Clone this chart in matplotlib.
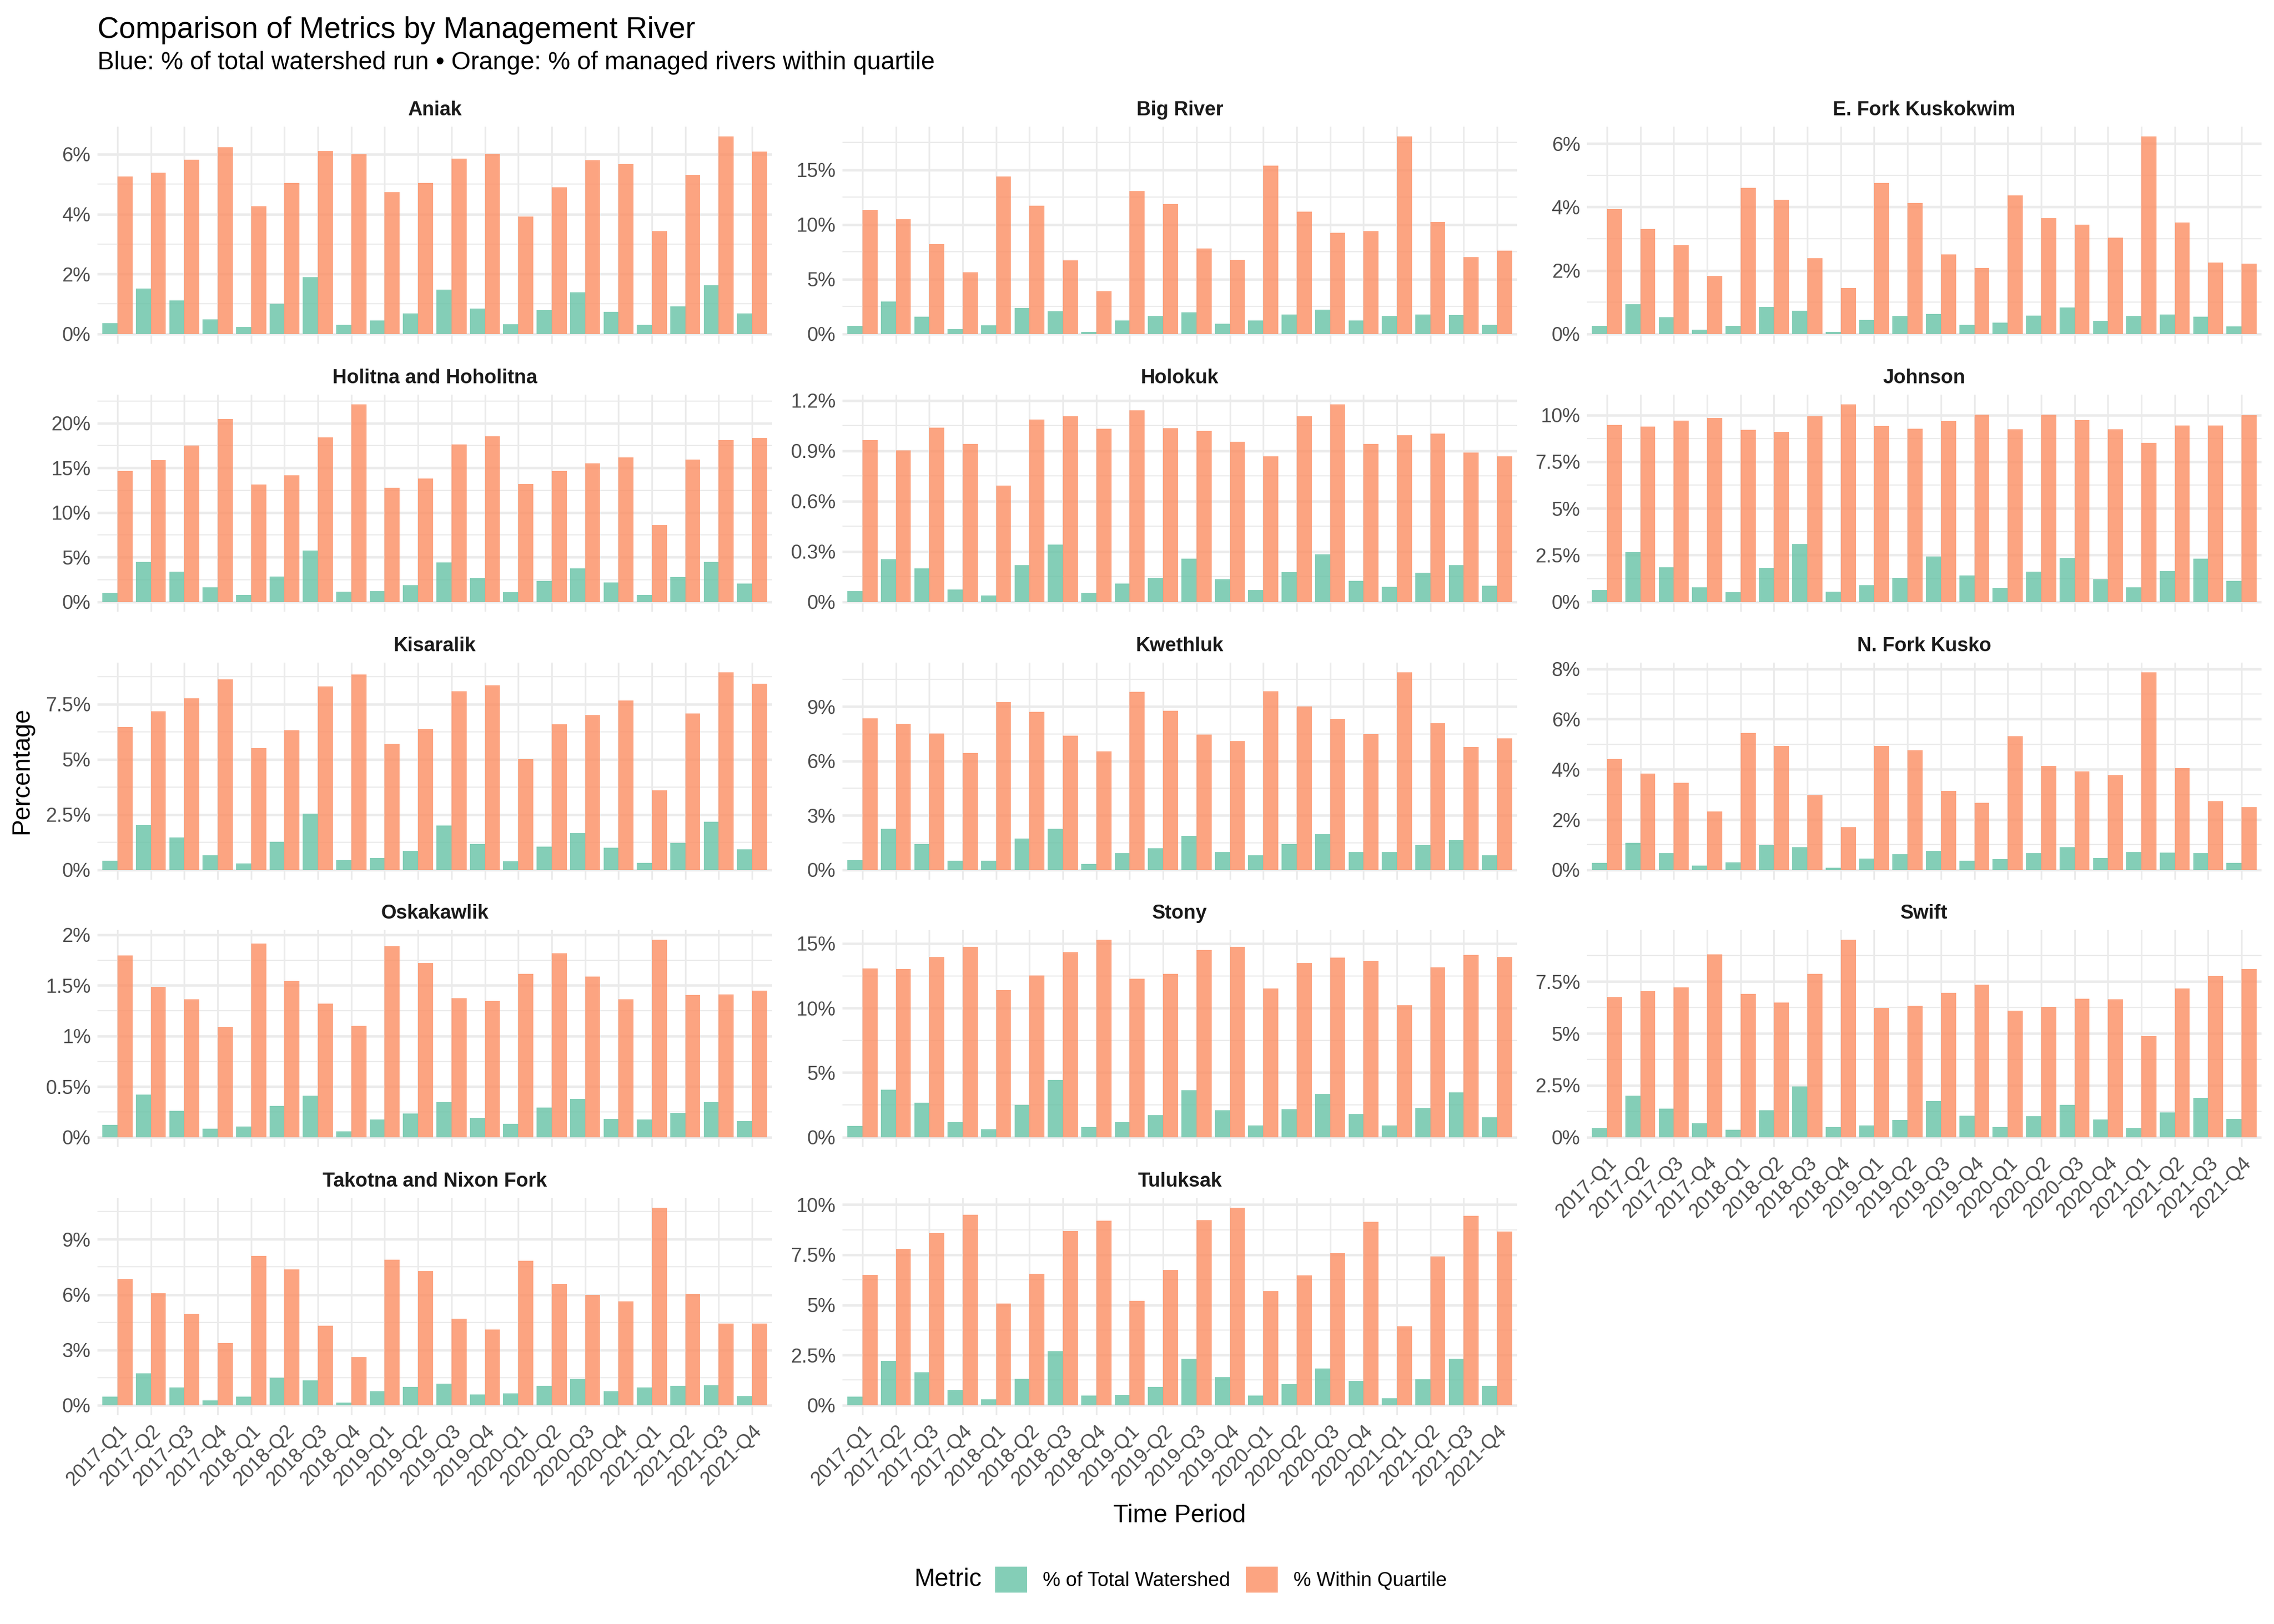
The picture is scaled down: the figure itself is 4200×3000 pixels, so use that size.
import matplotlib
matplotlib.use("Agg")
import matplotlib.pyplot as plt
from matplotlib.patches import Patch
from matplotlib.ticker import MultipleLocator, AutoMinorLocator, FuncFormatter
import numpy as np

plt.rcParams['font.family'] = ['Liberation Sans', 'DejaVu Sans']

periods = ["2017-Q1", "2017-Q2", "2017-Q3", "2017-Q4", "2018-Q1", "2018-Q2", "2018-Q3", "2018-Q4",
           "2019-Q1", "2019-Q2", "2019-Q3", "2019-Q4", "2020-Q1", "2020-Q2", "2020-Q3", "2020-Q4",
           "2021-Q1", "2021-Q2", "2021-Q3", "2021-Q4"]

# % of total watershed run / % within quartile, per river
aniak_total = [0.36, 1.51, 1.11, 0.48, 0.23, 1.01, 1.89, 0.30, 0.45, 0.68, 1.48, 0.84, 0.32, 0.79, 1.39, 0.73, 0.30, 0.92, 1.62, 0.68]
aniak_within = [5.25, 5.38, 5.81, 6.23, 4.26, 5.04, 6.10, 5.99, 4.73, 5.04, 5.85, 6.01, 3.92, 4.89, 5.80, 5.67, 3.43, 5.31, 6.59, 6.08]
big_total = [0.73, 2.95, 1.57, 0.43, 0.78, 2.36, 2.06, 0.18, 1.22, 1.62, 1.96, 0.92, 1.22, 1.77, 2.21, 1.22, 1.62, 1.77, 1.72, 0.83]
big_within = [11.32, 10.48, 8.20, 5.63, 14.39, 11.72, 6.72, 3.89, 13.05, 11.86, 7.81, 6.77, 15.38, 11.17, 9.24, 9.39, 18.05, 10.23, 7.01, 7.61]
efork_total = [0.25, 0.93, 0.52, 0.13, 0.25, 0.85, 0.73, 0.06, 0.44, 0.56, 0.63, 0.28, 0.35, 0.57, 0.83, 0.40, 0.56, 0.61, 0.54, 0.23]
efork_within = [3.93, 3.30, 2.79, 1.82, 4.60, 4.22, 2.38, 1.44, 4.75, 4.12, 2.50, 2.07, 4.36, 3.64, 3.45, 3.03, 6.22, 3.51, 2.24, 2.21]
holitna_total = [1.01, 4.46, 3.37, 1.62, 0.77, 2.83, 5.74, 1.13, 1.19, 1.86, 4.40, 2.65, 1.07, 2.34, 3.74, 2.16, 0.77, 2.77, 4.46, 2.04]
holitna_within = [14.65, 15.86, 17.49, 20.46, 13.13, 14.16, 18.40, 22.10, 12.77, 13.80, 17.62, 18.53, 13.19, 14.65, 15.49, 16.16, 8.59, 15.92, 18.10, 18.34]
holokuk_total = [0.063, 0.254, 0.199, 0.073, 0.038, 0.218, 0.341, 0.054, 0.109, 0.141, 0.257, 0.134, 0.070, 0.176, 0.283, 0.125, 0.089, 0.173, 0.218, 0.096]
holokuk_within = [0.963, 0.902, 1.038, 0.941, 0.692, 1.086, 1.105, 1.031, 1.141, 1.034, 1.018, 0.954, 0.867, 1.105, 1.176, 0.941, 0.992, 1.002, 0.889, 0.867]
johnson_total = [0.63, 2.65, 1.84, 0.77, 0.51, 1.81, 3.09, 0.54, 0.89, 1.26, 2.42, 1.41, 0.74, 1.61, 2.34, 1.21, 0.77, 1.64, 2.31, 1.12]
johnson_within = [9.46, 9.37, 9.69, 9.84, 9.20, 9.08, 9.92, 10.56, 9.40, 9.26, 9.66, 10.01, 9.23, 10.01, 9.72, 9.23, 8.50, 9.43, 9.43, 9.98]
kisaralik_total = [0.42, 2.04, 1.47, 0.66, 0.29, 1.28, 2.55, 0.44, 0.54, 0.86, 2.01, 1.18, 0.39, 1.06, 1.67, 1.01, 0.32, 1.23, 2.18, 0.93]
kisaralik_within = [6.48, 7.19, 7.76, 8.62, 5.52, 6.33, 8.30, 8.84, 5.70, 6.38, 8.08, 8.35, 5.01, 6.60, 7.00, 7.68, 3.61, 7.07, 8.94, 8.42]
kwethluk_total = [0.54, 2.27, 1.44, 0.51, 0.51, 1.73, 2.27, 0.33, 0.93, 1.20, 1.88, 0.99, 0.81, 1.44, 1.97, 0.99, 0.99, 1.38, 1.65, 0.81]
kwethluk_within = [8.37, 8.05, 7.51, 6.46, 9.24, 8.73, 7.39, 6.55, 9.81, 8.79, 7.45, 7.09, 9.84, 9.00, 8.32, 7.48, 10.89, 8.08, 6.76, 7.24]
nfork_total = [0.27, 1.07, 0.66, 0.17, 0.29, 0.98, 0.90, 0.08, 0.44, 0.63, 0.76, 0.36, 0.42, 0.66, 0.91, 0.48, 0.70, 0.69, 0.66, 0.27]
nfork_within = [4.42, 3.83, 3.47, 2.32, 5.46, 4.93, 2.96, 1.70, 4.94, 4.77, 3.15, 2.67, 5.31, 4.14, 3.91, 3.77, 7.86, 4.05, 2.73, 2.50]
oska_total = [0.121, 0.421, 0.260, 0.084, 0.105, 0.308, 0.410, 0.057, 0.175, 0.234, 0.346, 0.191, 0.132, 0.292, 0.378, 0.180, 0.175, 0.239, 0.346, 0.159]
oska_within = [1.795, 1.485, 1.362, 1.089, 1.913, 1.544, 1.319, 1.100, 1.886, 1.720, 1.373, 1.346, 1.613, 1.816, 1.586, 1.362, 1.950, 1.405, 1.410, 1.447]
stony_total = [0.87, 3.67, 2.67, 1.16, 0.61, 2.50, 4.43, 0.78, 1.16, 1.70, 3.63, 2.08, 0.91, 2.16, 3.34, 1.79, 0.91, 2.25, 3.46, 1.54]
stony_within = [13.06, 13.02, 13.94, 14.73, 11.38, 12.51, 14.32, 15.28, 12.26, 12.64, 14.48, 14.73, 11.51, 13.48, 13.90, 13.65, 10.21, 13.14, 14.11, 13.94]
swift_total = [0.43, 1.99, 1.37, 0.67, 0.37, 1.29, 2.44, 0.48, 0.58, 0.84, 1.73, 1.03, 0.48, 1.00, 1.56, 0.86, 0.43, 1.20, 1.89, 0.89]
swift_within = [6.75, 7.04, 7.21, 8.80, 6.90, 6.50, 7.87, 9.51, 6.23, 6.33, 6.95, 7.35, 6.09, 6.27, 6.67, 6.64, 4.86, 7.16, 7.76, 8.10]
takotna_total = [0.47, 1.73, 0.97, 0.26, 0.47, 1.50, 1.35, 0.15, 0.76, 1.00, 1.17, 0.59, 0.65, 1.06, 1.44, 0.76, 0.97, 1.06, 1.09, 0.50]
takotna_within = [6.84, 6.08, 4.96, 3.38, 8.10, 7.37, 4.32, 2.61, 7.90, 7.28, 4.70, 4.11, 7.84, 6.58, 5.99, 5.64, 10.71, 6.05, 4.43, 4.43]
tuluksak_total = [0.43, 2.21, 1.64, 0.75, 0.30, 1.32, 2.70, 0.49, 0.51, 0.92, 2.32, 1.40, 0.49, 1.05, 1.83, 1.21, 0.35, 1.29, 2.32, 0.97]
tuluksak_within = [6.50, 7.79, 8.57, 9.49, 5.07, 6.55, 8.68, 9.19, 5.20, 6.74, 9.22, 9.84, 5.69, 6.47, 7.57, 9.14, 3.94, 7.41, 9.43, 8.65]

rivers = ["Aniak", "Big River", "E. Fork Kuskokwim", "Holitna and Hoholitna", "Holokuk", "Johnson",
          "Kisaralik", "Kwethluk", "N. Fork Kusko", "Oskakawlik", "Stony", "Swift",
          "Takotna and Nixon Fork", "Tuluksak"]
totals = [aniak_total, big_total, efork_total, holitna_total, holokuk_total, johnson_total,
          kisaralik_total, kwethluk_total, nfork_total, oska_total, stony_total, swift_total,
          takotna_total, tuluksak_total]
withins = [aniak_within, big_within, efork_within, holitna_within, holokuk_within, johnson_within,
           kisaralik_within, kwethluk_within, nfork_within, oska_within, stony_within, swift_within,
           takotna_within, tuluksak_within]

# y break step per facet (mimics ggplot's pretty breaks)
ystep = [2, 5, 2, 5, 0.3, 2.5, 2.5, 3, 2, 0.5, 5, 2.5, 3, 2.5]

GREEN = "#66C2A5"
ORANGE = "#FC8D62"
GRID = "#EBEBEB"
TXT = "#4D4D4D"

W, H = 4200, 3000
fig = plt.figure(figsize=(14, 10), dpi=300)

col_left = [180, 1556, 2931]
pan_w = 1246
row_top = [234, 729, 1224, 1718, 2213]
pan_h = 401

pct = FuncFormatter(lambda v, p: f"{round(v, 2):g}%")
x = np.arange(len(periods))
bw = 0.45

for i, name in enumerate(rivers):
    r, c = divmod(i, 3)
    ax = fig.add_axes([col_left[c] / W, 1 - (row_top[r] + pan_h) / H, pan_w / W, pan_h / H])
    ax.bar(x - bw / 2, totals[i], width=bw, color=GREEN, alpha=0.8, zorder=3)
    ax.bar(x + bw / 2, withins[i], width=bw, color=ORANGE, alpha=0.8, zorder=3)
    m = max(max(totals[i]), max(withins[i]))
    ax.set_ylim(-0.05 * m, 1.05 * m)
    ax.set_xlim(-0.6, len(periods) - 1 + 0.6)
    ax.yaxis.set_major_locator(MultipleLocator(ystep[i]))
    ax.yaxis.set_minor_locator(AutoMinorLocator(2))
    ax.yaxis.set_major_formatter(pct)
    ax.set_xticks(x)
    bottom = (i + 3 >= len(rivers))
    if bottom:
        ax.set_xticklabels(periods, rotation=45, ha='right', va='top', rotation_mode='anchor',
                           fontsize=8.8, color=TXT)
    else:
        ax.set_xticklabels([])
    ax.tick_params(axis='both', which='both', length=0, labelsize=8.8, labelcolor=TXT, pad=3)
    ax.grid(axis='y', which='major', color=GRID, linewidth=1.1)
    ax.grid(axis='y', which='minor', color=GRID, linewidth=0.55)
    ax.grid(axis='x', which='major', color=GRID, linewidth=0.75)
    ax.set_axisbelow(True)
    for s in ax.spines.values():
        s.set_visible(False)
    ax.set_title(name, fontsize=8.8, fontweight='bold', color='#1A1A1A', pad=5)

fig.text(180 / W, 1 - 70 / H, "Comparison of Metrics by Management River", fontsize=13.2,
         color='black', ha='left', va='baseline')
fig.text(180 / W, 1 - 128 / H,
         "Blue: % of total watershed run \u2022 Orange: % of managed rivers within quartile",
         fontsize=11, color='black', ha='left', va='baseline')

fig.text((180 + 2931 + pan_w) / 2 / W, 1 - 2800 / H, "Time Period", fontsize=11, ha='center', va='center')
fig.text(40 / W, 1 - 1424 / H, "Percentage", fontsize=11, rotation=90, ha='center', va='center')

fig.text(1688 / W, 1 - 2918 / H, "Metric", fontsize=11, ha='left', va='center')
handles = [Patch(facecolor=GREEN, alpha=0.8, edgecolor='none'),
           Patch(facecolor=ORANGE, alpha=0.8, edgecolor='none')]
fig.legend(handles, ["% of Total Watershed", "% Within Quartile"], loc='center left',
           bbox_to_anchor=(1838 / W, 1 - 2918 / H), ncol=2, frameon=False, fontsize=8.8,
           handlelength=1.6, handleheight=1.6, handletextpad=0.8, columnspacing=0.8,
           borderpad=0, borderaxespad=0)

fig.savefig("out.png", dpi=300, facecolor='white')
